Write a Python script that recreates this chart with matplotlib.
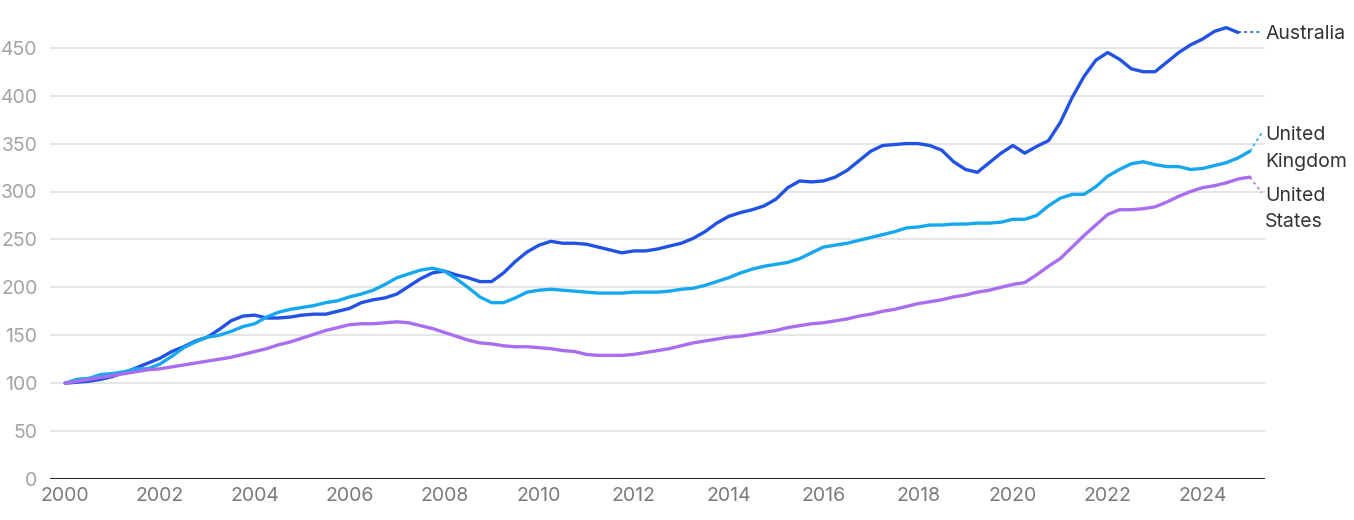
import numpy as np
import matplotlib
matplotlib.use("Agg")
import matplotlib.pyplot as plt

plt.rcParams['font.family'] = ['Inter', 'DejaVu Sans']

# quarterly index, 2000 Q1 = 100
australia = [100, 101, 102, 104, 107, 111, 116, 121, 126, 133, 138, 144,
             148, 156, 165, 170, 171, 168, 168, 169, 171, 172, 172, 175,
             178, 184, 187, 189, 193, 201, 209, 215, 217, 213, 210, 206,
             206, 215, 227, 237, 244, 248, 246, 246, 245, 242, 239, 236,
             238, 238, 240, 243, 246, 251, 258, 267, 274, 278, 281, 285,
             292, 304, 311, 310, 311, 315, 322, 332, 342, 348, 349, 350,
             350, 348, 343, 331, 323, 320, 330, 340, 348, 340, 347, 353,
             372, 398, 420, 437, 445, 438, 428, 425, 425, 435, 445, 453,
             459, 467, 471, 466]
uk = [100, 104, 105, 109, 110, 112, 115, 115, 120, 128, 137, 143,
      148, 150, 154, 159, 162, 169, 174, 177, 179, 181, 184, 186,
      190, 193, 197, 203, 210, 214, 218, 220, 217, 209, 200, 190,
      184, 184, 189, 195, 197, 198, 197, 196, 195, 194, 194, 194,
      195, 195, 195, 196, 198, 199, 202, 206, 210, 215, 219, 222,
      224, 226, 230, 236, 242, 244, 246, 249, 252, 255, 258, 262,
      263, 265, 265, 266, 266, 267, 267, 268, 271, 271, 275, 285,
      293, 297, 297, 305, 316, 323, 329, 331, 328, 326, 326, 323,
      324, 327, 330, 335, 342]
us = [100, 102, 104, 106, 108, 110, 112, 114, 115, 117, 119, 121,
      123, 125, 127, 130, 133, 136, 140, 143, 147, 151, 155, 158,
      161, 162, 162, 163, 164, 163, 160, 157, 153, 149, 145, 142,
      141, 139, 138, 138, 137, 136, 134, 133, 130, 129, 129, 129,
      130, 132, 134, 136, 139, 142, 144, 146, 148, 149, 151, 153,
      155, 158, 160, 162, 163, 165, 167, 170, 172, 175, 177, 180,
      183, 185, 187, 190, 192, 195, 197, 200, 203, 205, 213, 222,
      230, 242, 254, 265, 276, 281, 281, 282, 284, 289, 295, 300,
      304, 306, 309, 313, 315]

names = ["Australia", "United\nKingdom", "United\nStates"]
colors = ["#2152e3", "#15a8ef", "#a96df0"]
label_y = [464, 345, 282]     # label block centres
link_y = [466, 361, 299]      # where dotted connector meets the label

yticks = list(range(0, 451, 50))
xticks = list(range(2000, 2025, 2))

fig = plt.figure(figsize=(13.54, 5.2), dpi=100)
ax = fig.add_axes([50/1354, 1-479/520, 1215/1354, 460/520])

series = [australia, uk, us]
for vals, name, c, ly, lk in zip(series, names, colors, label_y, link_y):
    t = 2000 + np.arange(len(vals)) * 0.25
    ax.plot(t, vals, color=c, lw=2.4, solid_joinstyle='round', solid_capstyle='round', zorder=3)
    ax.plot([t[-1], 2025.25], [vals[-1], lk], color=c, lw=1.1, ls=(0, (2, 2)), zorder=3)
    ax.text(2025.32, ly, name, ha='left', va='center', fontsize=14,
            color='#333333', linespacing=1.6, clip_on=False)

ax.set_xlim(1999.68, 2025.32)
ax.set_ylim(0, 480)
ax.set_yticks(yticks)
ax.set_xticks(xticks)
ax.set_yticklabels([str(v) for v in yticks], fontsize=14, color='#a3a3a3')
ax.set_xticklabels([str(v) for v in xticks], fontsize=14, color='#7a7a7a')
ax.tick_params(axis='both', length=0)
ax.tick_params(axis='y', pad=9)
ax.tick_params(axis='x', pad=6)
for s in ax.spines.values():
    s.set_visible(False)
ax.grid(axis='y', color='#e3e3e3', lw=1.3)
ax.axhline(0, color='#2b2b2b', lw=2.2, zorder=4)
ax.set_axisbelow(True)

fig.savefig("out.png", dpi=100)
